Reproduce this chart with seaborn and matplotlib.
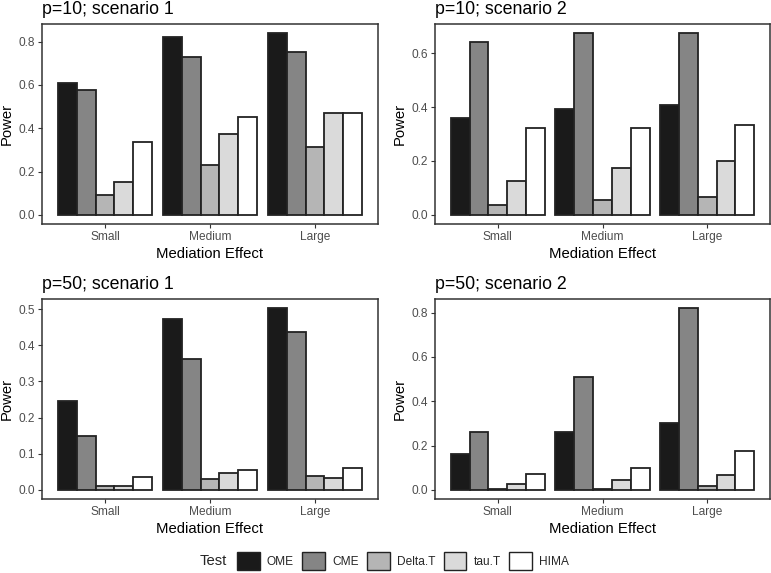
import numpy as np
import pandas as pd
import matplotlib
matplotlib.use("Agg")
import matplotlib.pyplot as plt
from matplotlib.patches import Patch
import seaborn as sns

# ---------------- data ----------------
effects = ["Small", "Medium", "Large"]
tests = ["OME", "CME", "Delta.T", "tau.T", "HIMA"]
titles = ["p=10; scenario 1", "p=10; scenario 2", "p=50; scenario 1", "p=50; scenario 2"]

# values per panel: rows = effect (Small, Medium, Large), cols = tests
p10_s1_small = [0.610, 0.578, 0.094, 0.152, 0.335]
p10_s1_medium = [0.820, 0.727, 0.232, 0.373, 0.450]
p10_s1_large = [0.839, 0.754, 0.312, 0.472, 0.470]

p10_s2_small = [0.358, 0.640, 0.035, 0.126, 0.324]
p10_s2_medium = [0.393, 0.673, 0.057, 0.173, 0.321]
p10_s2_large = [0.407, 0.674, 0.068, 0.198, 0.333]

p50_s1_small = [0.245, 0.149, 0.010, 0.010, 0.035]
p50_s1_medium = [0.473, 0.363, 0.031, 0.046, 0.054]
p50_s1_large = [0.503, 0.438, 0.039, 0.032, 0.061]

p50_s2_small = [0.164, 0.262, 0.002, 0.027, 0.074]
p50_s2_medium = [0.260, 0.508, 0.006, 0.044, 0.099]
p50_s2_large = [0.304, 0.820, 0.018, 0.068, 0.176]

yticks_list = [
    [0.0, 0.2, 0.4, 0.6, 0.8],
    [0.0, 0.2, 0.4, 0.6],
    [0.0, 0.1, 0.2, 0.3, 0.4, 0.5],
    [0.0, 0.2, 0.4, 0.6, 0.8],
]

panels = [
    [p10_s1_small, p10_s1_medium, p10_s1_large],
    [p10_s2_small, p10_s2_medium, p10_s2_large],
    [p50_s1_small, p50_s1_medium, p50_s1_large],
    [p50_s2_small, p50_s2_medium, p50_s2_large],
]

fill_colors = ["#1a1a1a", "#858585", "#b5b5b5", "#dadada", "#ffffff"]
palette = dict(zip(tests, fill_colors))

# ---------------- style ----------------
sns.set_theme(style="white")
plt.rcParams["font.family"] = ["Liberation Sans", "DejaVu Sans"]

W, H = 771, 573
fig = plt.figure(figsize=(W / 100, H / 100), dpi=100)

def px_axes(l, t, r, b):
    return fig.add_axes([l / W, 1 - b / H, (r - l) / W, (b - t) / H])

boxes = [
    (42, 24, 378, 224),
    (435, 24, 770, 224),
    (42, 299, 378, 499),
    (435, 299, 770, 499),
]

frame_col = "#333333"
tick_col = "#4d4d4d"

for i, (box, vals) in enumerate(zip(boxes, panels)):
    ax = px_axes(*box)
    rows = []
    for e, row in zip(effects, vals):
        for t, v in zip(tests, row):
            rows.append({"Mediation Effect": e, "Test": t, "Power": v})
    df = pd.DataFrame(rows)
    sns.barplot(data=df, x="Mediation Effect", y="Power", hue="Test",
                order=effects, hue_order=tests, palette=palette,
                width=0.9, edgecolor="#222222", linewidth=1.3,
                errorbar=None, legend=False, ax=ax, saturation=1)
    ymax = df["Power"].max()
    ax.set_ylim(-0.05 * ymax, 1.05 * ymax)
    ax.set_xlim(-0.6, 2.6)
    yt = yticks_list[i]
    ax.set_yticks(yt)
    ax.set_yticklabels([f"{v:.1f}" for v in yt])
    for s in ax.spines.values():
        s.set_visible(True)
        s.set_color(frame_col)
        s.set_linewidth(1.1)
    ax.tick_params(axis="both", which="major", direction="out", length=3.0,
                   width=0.8, color=frame_col, labelcolor=tick_col,
                   labelsize=8.6, pad=2.2, bottom=True, left=True)
    ax.set_xlabel("Mediation Effect", fontsize=10.7, color="black", labelpad=2.5)
    ax.set_ylabel("Power", fontsize=10.7, color="black", labelpad=3.5)
    ax.set_title(titles[i], loc="left", fontsize=12.8, color="black", pad=7.5)
    ax.grid(False)

# ---------------- legend ----------------
fig.text(200 / W, 1 - 561 / H, "Test", fontsize=10.7, ha="left", va="center")
handles = [Patch(facecolor=c, edgecolor="#222222", linewidth=1.0) for c in fill_colors]
leg = fig.legend(handles, tests, loc="center left",
                 bbox_to_anchor=(237 / W, 1 - 561 / H), ncol=5, frameon=False,
                 fontsize=8.6, handlelength=1.9, handleheight=1.85,
                 handletextpad=0.6, columnspacing=0.7,
                 borderaxespad=0, borderpad=0)

fig.savefig("out.png", dpi=100)
